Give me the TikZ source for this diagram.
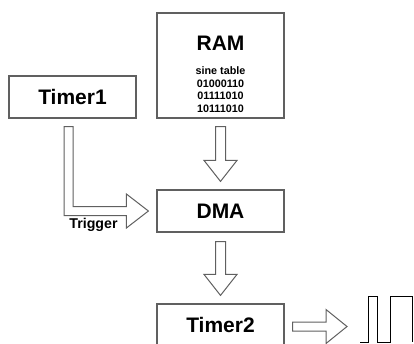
\documentclass[tikz,border=0pt]{standalone}
\usepackage{fontspec}
\setmainfont{Liberation Sans}
\usetikzlibrary{calc}
\tikzset{
  block/.style = {draw = gray!75!black, line width = 1.2pt, minimum width = 127pt, minimum height = 42pt, inner sep = 0pt, font = \bfseries\fontsize{21}{21}\selectfont},
  fatarrow/.style = {draw = gray!75!black, line width = 1pt, fill = white, line join = miter},
}
% hollow block arrows, from the tail point to the tip
\newcommand{\blockdown}[2]{\draw[fatarrow] let \p1 = (#1), \p2 = (#2) in (\x1-5pt,\y1) -- (\x1+5pt,\y1) -- (\x1+5pt,\y2+21pt) -- (\x1+16.5pt,\y2+21pt) -- (\x1,\y2) -- (\x1-16.5pt,\y2+21pt) -- (\x1-5pt,\y2+21pt) -- cycle;}
\newcommand{\blockright}[2]{\draw[fatarrow] let \p1 = (#1), \p2 = (#2) in (\x1,\y1+4.5pt) -- (\x2-21pt,\y1+4.5pt) -- (\x2-21pt,\y1+17pt) -- (\x2,\y1) -- (\x2-21pt,\y1-17pt) -- (\x2-21pt,\y1-4.5pt) -- (\x1,\y1-4.5pt) -- cycle;}
\begin{document}
\begin{tikzpicture}[x = 1pt, y = -1pt]
\useasboundingbox (0,0) rectangle (414,343);
\node[block, minimum height = 105pt] (ram) at (220.5,65.5) {};
\node[font = \bfseries\fontsize{21}{21}\selectfont] (ramtitle) at (220.5,43) {RAM};
\node[font = \bfseries\fontsize{10.8}{12.7}\selectfont, align = center] (sine) at (220.5,89.5) {sine table\\01000110\\01111010\\10111010};
\node[block] (timer1) at (72.5,97) {Timer1};
\node[block] (dma) at (220.5,211) {DMA};
\node[block] (timer2) at (220.5,325) {Timer2};
% RAM -> DMA -> Timer2
\blockdown{$(ram.south)+(0,8)$}{$(dma.north)+(0,-8)$}
\blockdown{$(dma.south)+(0,9)$}{$(timer2.north)+(0,-8)$}
% trigger path from Timer1
\coordinate (trigtop) at ($(timer1.south)+(-4,8)$);
\coordinate (trigtip) at ($(dma.west)+(-8,0)$);
\draw[fatarrow] let \p1 = (trigtop), \p2 = (trigtip) in (\x1-4.5pt,\y1) -- (\x1+4.5pt,\y1) -- (\x1+4.5pt,\y2+4.5pt) -- (\x2-22pt,\y2+4.5pt) -- (\x2-22pt,\y2+17pt) -- (\x2,\y2) -- (\x2-22pt,\y2-17pt) -- (\x2-22pt,\y2-4.5pt) -- (\x1-4.5pt,\y2-4.5pt) -- cycle;
\node[font = \bfseries\fontsize{14.2}{14.2}\selectfont] (trigger) at (93.5,225) {Trigger};
% output pulses
\coordinate (out) at (347,325);
\blockright{$(timer2.east)+(8,1.5)$}{out}
\draw[line width = 1pt, line join = miter] (360,342) -- (368,342) -- (368,296) -- (377,296) -- (377,342) -- (390,342) -- (390,296) -- (412,296) -- (412,342);
\end{tikzpicture}
\end{document}
